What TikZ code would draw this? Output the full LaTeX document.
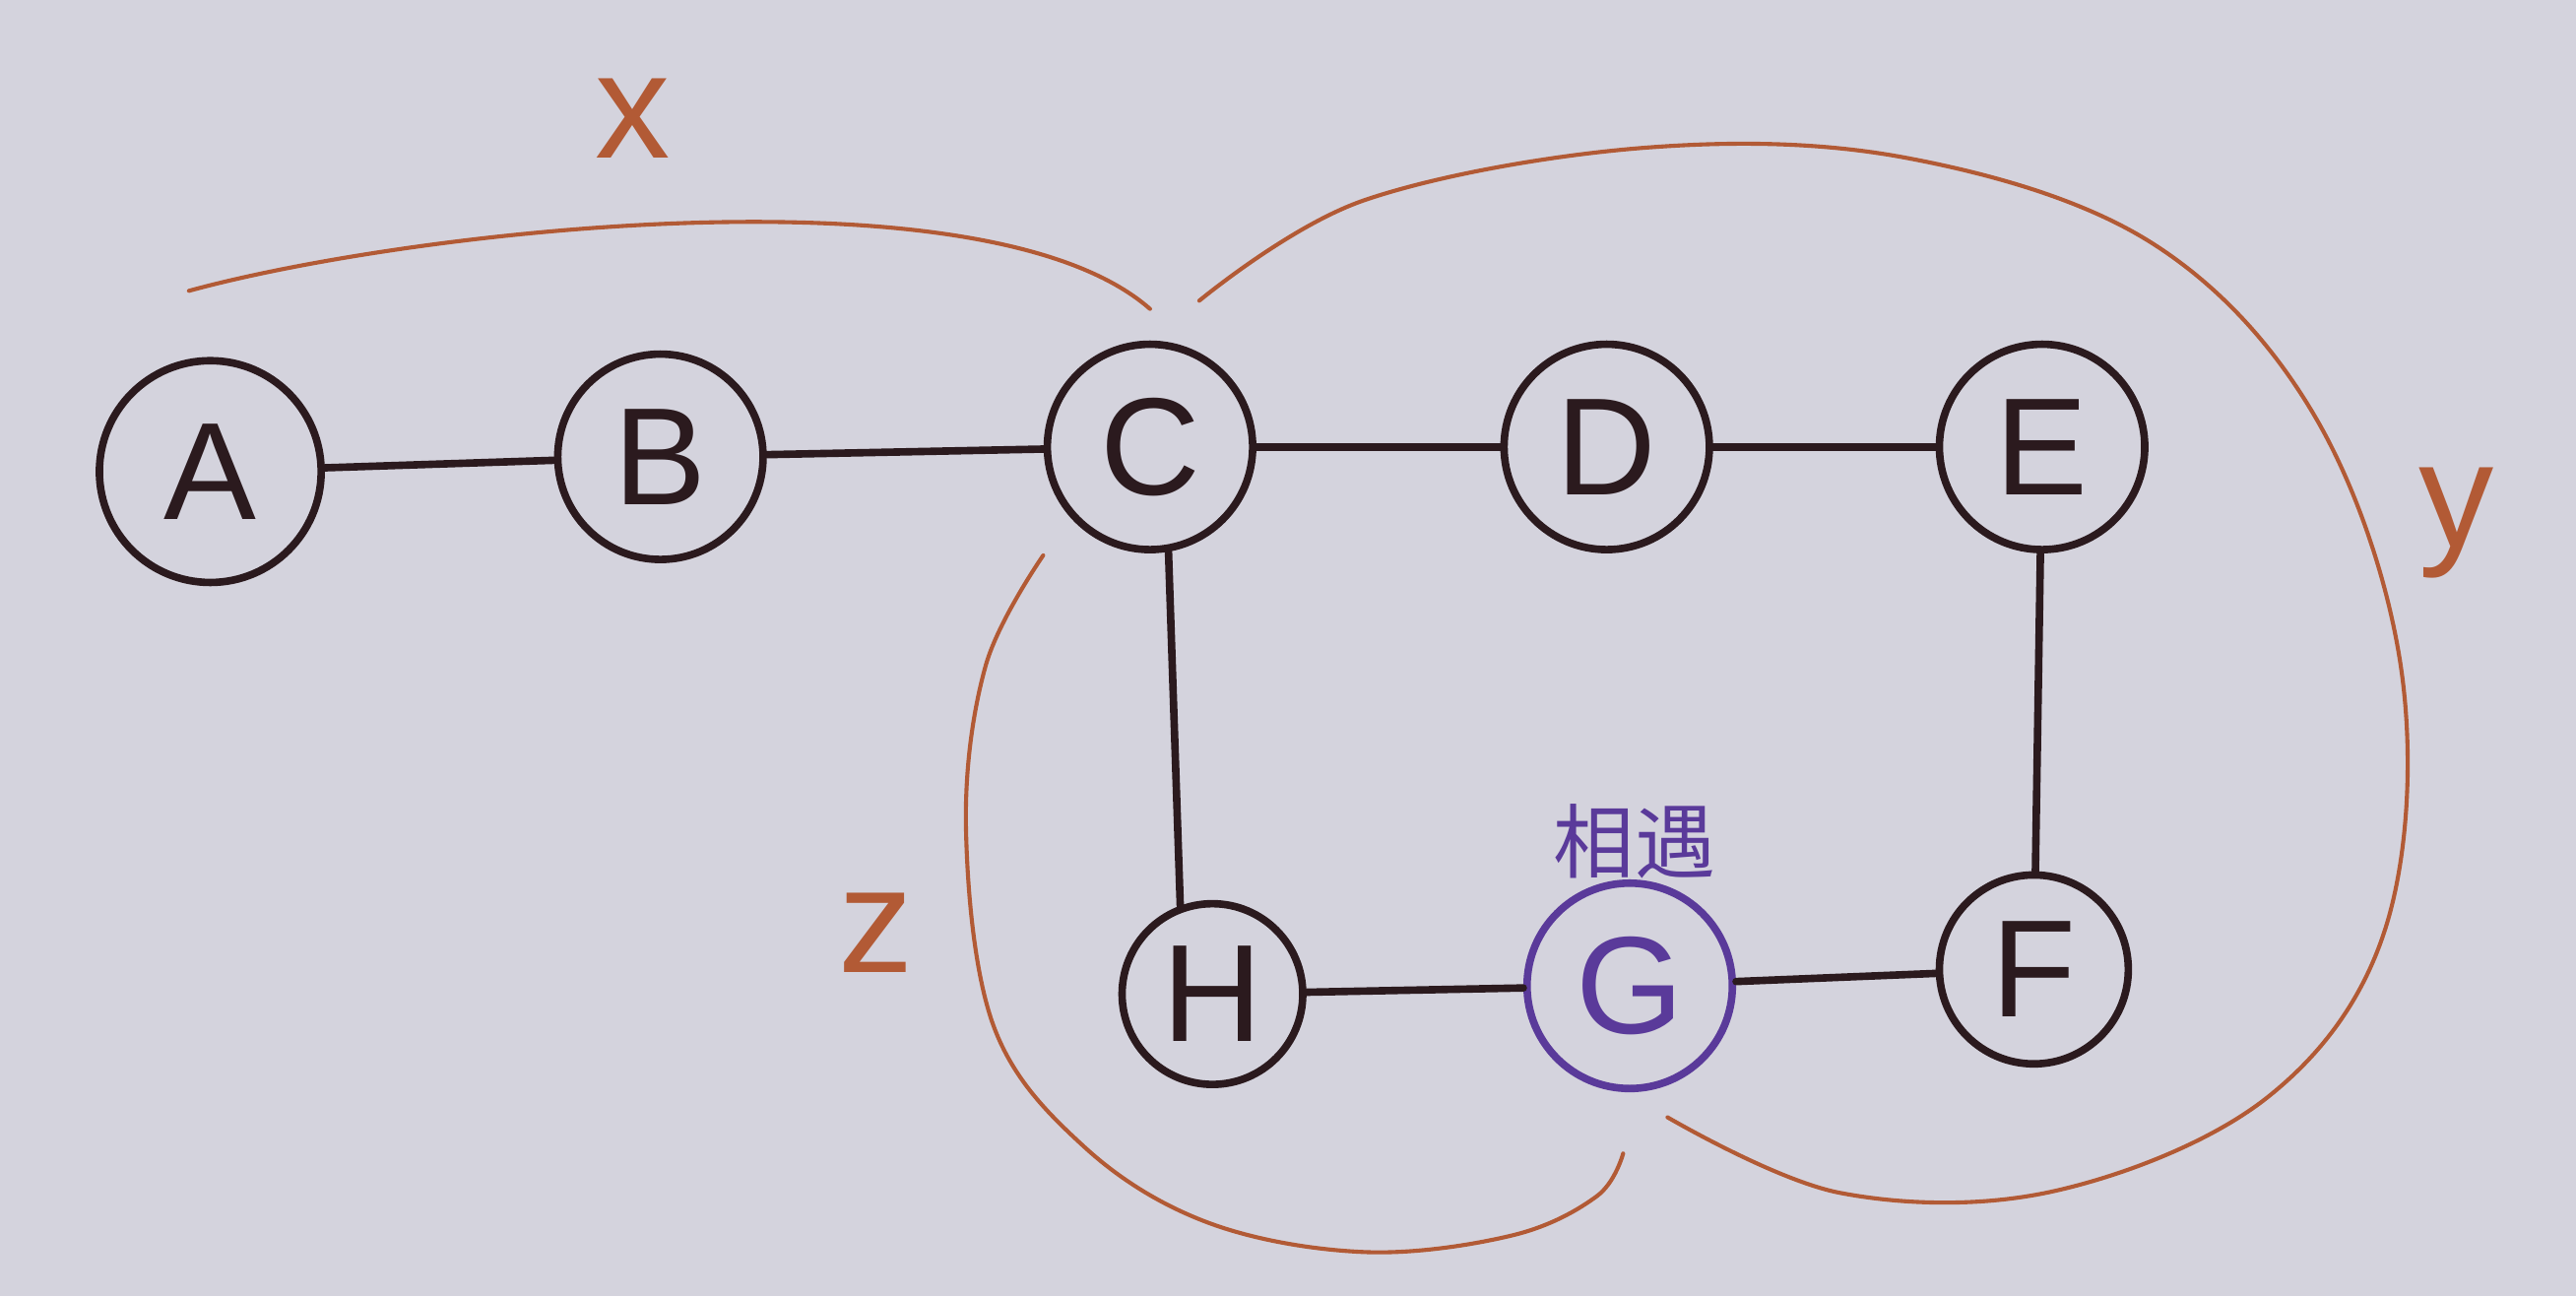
\documentclass[tikz,border=0pt]{standalone}
\usepackage{fontspec}
\setsansfont{Liberation Sans}
\newfontfamily\cjk{Noto Sans CJK SC}
\usetikzlibrary{calc}
\definecolor{board}{HTML}{D4D3DD}
\definecolor{ink}{HTML}{2B1A1E}
\definecolor{rust}{HTML}{B25A35}
\definecolor{violet}{HTML}{5A3A9A}

\begin{document}
\begin{tikzpicture}[x=0.1mm, y=-0.1mm,
      vtx/.style={circle, draw=ink, line width=1.3pt, minimum size=12.5mm, inner sep=0pt, font=\sffamily\fontsize{24}{26}\selectfont, text=ink},
      meet/.style={vtx, draw=violet, text=violet},
      edge/.style={draw=ink, line width=1.3pt, line cap=round},
      loop/.style={draw=rust, line width=0.7pt, line cap=round},
      tag/.style={font=\sffamily\fontsize{26}{28}\selectfont, text=rust}]
    \fill[board] (0,0) rectangle (1568,789);
    \useasboundingbox (0,0) rectangle (1568,789);
    % vertices
    \node[vtx, minimum size=13.5mm] (A) at (128,287) {A};
    \node[vtx] (B) at (402,278) {B};
    \node[vtx] (C) at (700,272) {C};
    \node[vtx] (D) at (978,272) {D};
    \node[vtx] (E) at (1243,272) {E};
    \node[vtx, minimum size=11.5mm] (F) at (1238,590) {F};
    \node[meet] (G) at (992,600) {G};
    \node[vtx, minimum size=11mm] (H) at (738,605) {H};
    \node[font=\cjk\fontsize{14}{15}\selectfont, text=violet] (meetlbl) at (995,512) {相遇};
    % edges
    \draw[edge] (A) -- (B);
    \draw[edge] (B) -- (C);
    \draw[edge] (C) -- (D);
    \draw[edge] (D) -- (E);
    \draw[edge] (E) -- (F);
    \draw[edge] (F) -- (G);
    \draw[edge] (G) -- (H);
    \draw[edge] (C.280) -- (H.110);
    % walked distances
    \coordinate (xs) at (115,177);
    \coordinate (xe) at (700,188);
    \draw[loop] (xs) .. controls (250,140) and (600,100) .. (xe);
    \node[tag] (xl) at (385,72) {x};
    \coordinate (ys) at (730,183);
    \coordinate (ye) at (1015,680);
    \draw[loop] plot[smooth, tension=0.6] coordinates {(ys) (830,122) (1000,90) (1160,96) (1310,148) (1410,255) (1462,410) (1452,565) (1380,668) (1250,725) (1120,726) (ye)};
    \node[tag] (yl) at (1495,318) {y};
    \coordinate (zs) at (635,338);
    \coordinate (ze) at (988,702);
    \draw[loop] plot[smooth, tension=0.6] coordinates {(zs) (600,405) (588,505) (605,625) (660,698) (735,744) (830,762) (920,752) (972,728) (ze)};
    \node[tag] (zl) at (533,568) {z};
  \end{tikzpicture}
\end{document}
